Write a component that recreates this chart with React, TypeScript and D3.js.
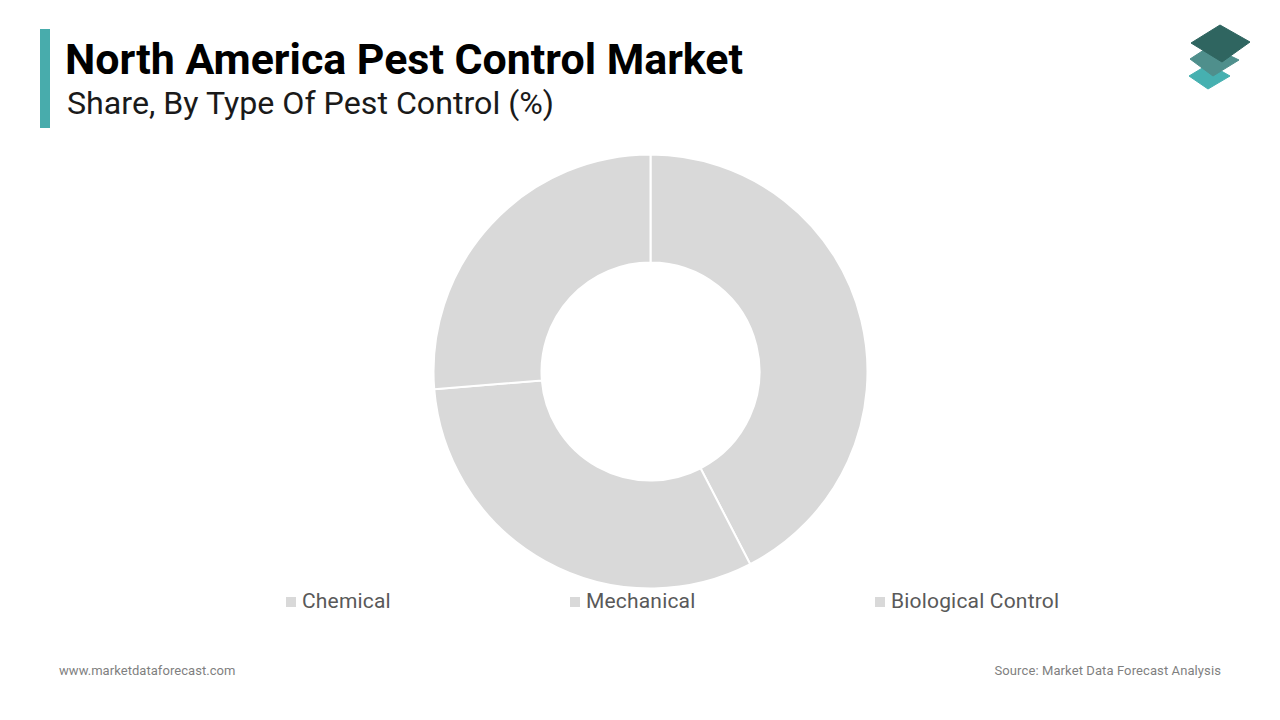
import React, { useRef, useEffect } from "react";
import * as d3 from "d3";

const categories = ["Chemical", "Mechanical", "Biological Control"];
const shares = [42.4, 31.3, 26.3];
const legendX = [285, 569, 874];

const title = "North America Pest Control Market";
const subtitle = "Share, By Type Of Pest Control (%)";
const siteLabel = "www.marketdataforecast.com";
const sourceLabel = "Source: Market Data Forecast Analysis";

const FONT = "Roboto, sans-serif";

const App = () => {
  const ref = useRef<SVGSVGElement | null>(null);

  useEffect(() => {
    const svg = d3.select(ref.current);
    svg.selectAll("*").remove();

    // header
    svg.append("rect")
      .attr("x", 40).attr("y", 29).attr("width", 10).attr("height", 99)
      .attr("fill", "#48acac");
    svg.append("text")
      .attr("x", 65).attr("y", 74)
      .attr("font-size", 42).attr("font-weight", 700).attr("fill", "#000")
      .attr("textLength", 678).attr("lengthAdjust", "spacingAndGlyphs")
      .text(title);
    svg.append("text")
      .attr("x", 67).attr("y", 114)
      .attr("font-size", 31).attr("fill", "#1a1a1a")
      .attr("textLength", 487).attr("lengthAdjust", "spacingAndGlyphs")
      .text(subtitle);

    // logo
    const logo = svg.append("g").attr("stroke-linejoin", "round");
    const layers: [string, string][] = [
      ["#46b0b0", "1209,64 1230,76 1208,89 1189,76"],
      ["#4f8f8c", "1210,46 1239,60 1213,76 1190,59"],
      ["#2f6560", "1220,25 1250,42 1222,62 1191,43"],
    ];
    layers.forEach(([fill, points]) => {
      logo.append("polygon")
        .attr("points", points)
        .attr("fill", fill).attr("stroke", fill).attr("stroke-width", 1);
    });

    // donut
    const pie = d3.pie<number>().sort(null)(shares);
    const arc = d3.arc<d3.PieArcDatum<number>>().innerRadius(109).outerRadius(217);
    svg.append("g")
      .attr("transform", "translate(650.5, 371.5)")
      .selectAll("path")
      .data(pie)
      .join("path")
      .attr("d", arc)
      .attr("fill", "#d9d9d9")
      .attr("stroke", "#fff")
      .attr("stroke-width", 2);

    // legend
    const legend = svg.append("g")
      .selectAll("g")
      .data(categories)
      .join("g")
      .attr("transform", (_, i) => `translate(${legendX[i]}, 601)`);
    legend.append("rect")
      .attr("x", 1).attr("y", -4).attr("width", 10).attr("height", 10)
      .attr("fill", "#d9d9d9");
    legend.append("text")
      .attr("x", 17).attr("y", 7)
      .attr("font-size", 21).attr("letter-spacing", 0.18).attr("fill", "#595959")
      .text(d => d);

    // footer
    svg.append("text")
      .attr("x", 59).attr("y", 675)
      .attr("font-size", 13).attr("letter-spacing", 0.05).attr("fill", "#7f7f7f")
      .text(siteLabel);
    svg.append("text")
      .attr("x", 1221).attr("y", 675).attr("text-anchor", "end")
      .attr("font-size", 13).attr("letter-spacing", 0.1).attr("fill", "#7f7f7f")
      .text(sourceLabel);
  }, []);

  return (
    <svg
      ref={ref}
      width={1280}
      height={720}
      fontFamily={FONT}
      style={{ position: "absolute", left: 0, top: 0, background: "#fff" }}
    />
  );
};

export default App;
